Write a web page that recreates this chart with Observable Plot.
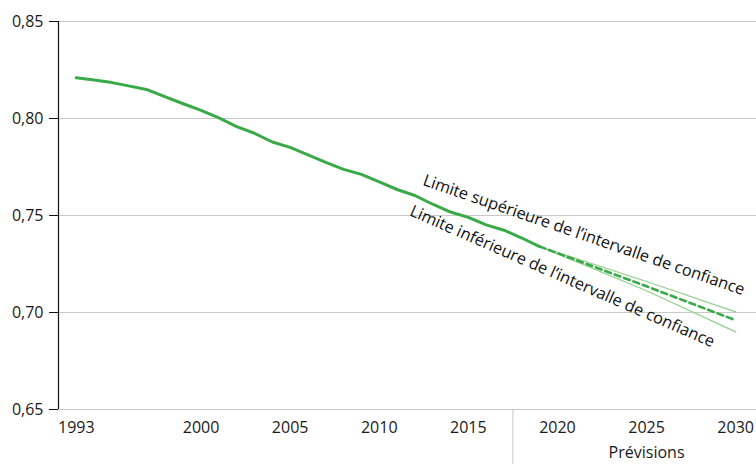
<!DOCTYPE html>
<html>
<head>
<meta charset="utf-8">
<script src="https://cdn.jsdelivr.net/npm/d3@7"></script>
<script src="https://cdn.jsdelivr.net/npm/@observablehq/plot@0.6"></script>
<style>
  html, body { margin: 0; padding: 0; background: #fff; }
  #chart svg { display: block; }
</style>
</head>
<body>
<div id="chart"></div>
<script>
// ---- data ----
const years = [1993,1994,1995,1996,1997,1998,1999,2000,2001,2002,2003,2004,2005,2006,2007,2008,2009,2010,2011,2012,2013,2014,2015,2016,2017,2018,2019];
const observed = [0.821,0.8198,0.8185,0.8167,0.8148,0.8112,0.8076,0.8042,0.8003,0.7958,0.7924,0.7879,0.7851,0.7812,0.7774,0.7738,0.7712,0.7673,0.7634,0.7603,0.7558,0.7518,0.7490,0.7452,0.7424,0.7384,0.7340];
const forecastYears = [2019, 2025, 2030];
const forecast = [0.7340, 0.7135, 0.6960];
const upper = [0.7340, 0.7160, 0.7003];
const lower = [0.7340, 0.7112, 0.6900];
const yTicks = [0.65, 0.70, 0.75, 0.80, 0.85];
const xTicks = [1993, 2000, 2005, 2010, 2015, 2020, 2025, 2030];
const forecastStart = [2017.5];
const forecastLabel = ["Prévisions"];
const forecastLabelYear = [2025];
const upperLabel = "Limite supérieure de l’intervalle de confiance";
const lowerLabel = "Limite inférieure de l’intervalle de confiance";

// ---- tables ----
const obsData = years.map((y, i) => ({year: y, value: observed[i]}));
const fcData = forecastYears.map((y, i) => ({year: y, value: forecast[i]}));
const upData = forecastYears.map((y, i) => ({year: y, value: upper[i]}));
const loData = forecastYears.map((y, i) => ({year: y, value: lower[i]}));
const labels = [
  {year: 2012.4, value: 0.7658, text: upperLabel, rotate: 19},
  {year: 2011.65, value: 0.7502, text: lowerLabel, rotate: 23.6}
];

const green = "#3aaa48";
const lightGreen = "#92cf8c";
const font = "'Open Sans', sans-serif";
const fmt = d => d3.format(".2f")(d).replace(".", ",");

const chart = Plot.plot({
  width: 756,
  height: 464,
  marginLeft: 58,
  marginRight: 0,
  marginTop: 21,
  marginBottom: 55,
  style: {fontFamily: font, fontSize: "16px", color: "#1a1a1a", background: "#fff"},
  x: {domain: [1992, 2031.17]},
  y: {domain: [0.65, 0.85]},
  marks: [
    Plot.ruleY(yTicks, {stroke: "#c8c8c8", strokeWidth: 1}),
    Plot.ruleX([1992], {stroke: "#111", strokeWidth: 1.2}),
    Plot.axisY({ticks: yTicks, tickFormat: fmt, tickSize: 9, tickPadding: 6, fontSize: 16, label: null, stroke: "#111"}),
    Plot.axisX({ticks: xTicks, tickFormat: d => String(d), tickSize: 0, tickPadding: 12, fontSize: 16, label: null}),
    Plot.axisX({ticks: forecastStart, tickFormat: () => "", tickSize: 55, stroke: "#c8c8c8", label: null}),
    Plot.axisX({ticks: forecastLabelYear, tickFormat: (d, i) => forecastLabel[0], tickSize: 0, tickPadding: 37, fontSize: 16, label: null}),
    Plot.line(upData, {x: "year", y: "value", stroke: lightGreen, strokeWidth: 1.2}),
    Plot.line(loData, {x: "year", y: "value", stroke: lightGreen, strokeWidth: 1.2}),
    Plot.line(fcData, {x: "year", y: "value", stroke: green, strokeWidth: 2.6, strokeDasharray: "6,4"}),
    Plot.line(obsData, {x: "year", y: "value", stroke: green, strokeWidth: 3}),
    Plot.text(labels, {x: "year", y: "value", text: "text", rotate: "rotate", textAnchor: "start", lineAnchor: "bottom", fontSize: 16.3, fill: "#111"})
  ]
});
document.getElementById("chart").appendChild(chart);
</script>
</body>
</html>
